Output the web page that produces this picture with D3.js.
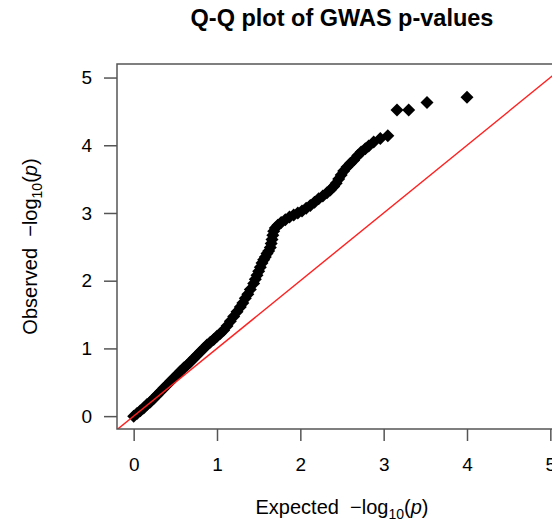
<!DOCTYPE html>
<html>
<head>
<meta charset="utf-8">
<style>
body {
   margin: 0;
   background: #fff;
   font-family: "Liberation Sans", Arial, sans-serif;
}
.axis text { font-size: 19px; fill: #000; font-family: "Liberation Sans", Arial, sans-serif; }
.axis line { stroke: #555; stroke-width: 1.5; }
.axis path { display: none; }
</style>
</head>
<body>
<div id="chart"></div>
<script src="https://d3js.org/d3.v7.min.js"></script>
<script>

// expected and observed -log10(p)
var expected = [0.00, 0.04, 0.08, 0.12, 0.16, 0.20, 0.24, 0.28, 0.32, 0.36, 0.40, 0.44, 0.48,
  0.52, 0.56, 0.60, 0.64, 0.68, 0.72, 0.76, 0.80, 0.84, 0.88, 0.92, 0.96, 1.00, 1.04, 1.08,
  1.12, 1.16, 1.20, 1.24, 1.28, 1.31, 1.34, 1.37, 1.40, 1.44, 1.46, 1.48, 1.50, 1.52, 1.54,
  1.56, 1.58, 1.60, 1.62, 1.64, 1.65, 1.66, 1.67, 1.68, 1.70, 1.73, 1.77, 1.82, 1.87, 1.92,
  1.97, 2.02, 2.07, 2.12, 2.17, 2.22, 2.27, 2.32, 2.36, 2.40, 2.43, 2.46, 2.49, 2.52, 2.56,
  2.60, 2.64, 2.69, 2.73, 2.78, 2.82, 2.88, 2.96, 3.05, 3.16, 3.30, 3.52, 4.00];
var observed = [0.00, 0.04, 0.08, 0.12, 0.17, 0.21, 0.26, 0.31, 0.36, 0.41, 0.46, 0.51, 0.56,
  0.61, 0.66, 0.71, 0.75, 0.80, 0.85, 0.90, 0.95, 1.00, 1.05, 1.09, 1.13, 1.18, 1.22, 1.27,
  1.33, 1.40, 1.47, 1.54, 1.61, 1.67, 1.74, 1.80, 1.87, 1.96, 2.02, 2.08, 2.14, 2.20, 2.26,
  2.31, 2.35, 2.40, 2.44, 2.49, 2.55, 2.61, 2.67, 2.73, 2.78, 2.82, 2.86, 2.90, 2.94, 2.97,
  3.00, 3.03, 3.07, 3.11, 3.16, 3.21, 3.25, 3.30, 3.34, 3.39, 3.44, 3.50, 3.56, 3.62, 3.68,
  3.73, 3.78, 3.85, 3.90, 3.95, 3.99, 4.05, 4.10, 4.14, 4.52, 4.52, 4.63, 4.71];
var xTicks = [0, 1, 2, 3, 4, 5];
var yTicks = [0, 1, 2, 3, 4, 5];

var width = 552, height = 524;
var plot = {left: 117, top: 64, right: 567, bottom: 429};

var x = d3.scaleLinear().domain([-0.2, 5.2]).range([plot.left, plot.right]);
var y = d3.scaleLinear().domain([-0.19, 5.2]).range([plot.bottom, plot.top]);

var svg = d3.select("#chart").append("svg")
    .attr("width", width)
    .attr("height", height);

svg.append("defs").append("clipPath").attr("id", "clip")
  .append("rect")
    .attr("x", plot.left).attr("y", plot.top)
    .attr("width", plot.right - plot.left).attr("height", plot.bottom - plot.top);

// points (filled diamonds)
var r = 6.5;
var diamond = "M0," + (-r) + "L" + r + ",0L0," + r + "L" + (-r) + ",0Z";
svg.append("g")
  .selectAll("path")
    .data(expected.map(function(d, i) { return [d, observed[i]]; }))
  .enter().append("path")
    .attr("d", diamond)
    .attr("transform", function(d) { return "translate(" + x(d[0]) + "," + y(d[1]) + ")"; })
    .attr("fill", "#000");

// y = x reference line
svg.append("line")
    .attr("clip-path", "url(#clip)")
    .attr("x1", x(-0.2)).attr("y1", y(-0.2))
    .attr("x2", x(5.2)).attr("y2", y(5.2))
    .attr("stroke", "#ff2020")
    .attr("stroke-width", 1.4);

// box
svg.append("rect")
    .attr("x", plot.left).attr("y", plot.top)
    .attr("width", plot.right - plot.left).attr("height", plot.bottom - plot.top)
    .attr("fill", "none")
    .attr("stroke", "#555")
    .attr("stroke-width", 1.5);

// axes
svg.append("g")
    .attr("class", "axis")
    .attr("transform", "translate(0," + plot.bottom + ")")
    .call(d3.axisBottom(x).tickValues(xTicks).tickSize(12).tickPadding(17).tickFormat(d3.format("d")));

svg.append("g")
    .attr("class", "axis")
    .attr("transform", "translate(" + plot.left + ",0)")
    .call(d3.axisLeft(y).tickValues(yTicks).tickSize(13).tickPadding(12).tickFormat(d3.format("d")));

// title
svg.append("text")
    .attr("x", (plot.left + plot.right) / 2)
    .attr("y", 26)
    .attr("text-anchor", "middle")
    .style("font-size", "23.5px")
    .style("font-weight", "bold")
    .text("Q-Q plot of GWAS p-values");

// axis titles with -log10(p)
function logLabel(t, word) {
  t.append("tspan").text(word + "  \u2212log");
  t.append("tspan").attr("dy", 5).style("font-size", "14px").text("10");
  t.append("tspan").attr("dy", -5).text("(");
  t.append("tspan").style("font-style", "italic").text("p");
  t.append("tspan").text(")");
}

var xt = svg.append("text")
    .attr("x", (plot.left + plot.right) / 2)
    .attr("y", 514)
    .attr("text-anchor", "middle")
    .style("font-size", "20px")
    .attr("xml:space", "preserve");
logLabel(xt, "Expected");

var yt = svg.append("text")
    .attr("transform", "translate(37," + ((plot.top + plot.bottom) / 2) + ") rotate(-90)")
    .attr("text-anchor", "middle")
    .style("font-size", "20px")
    .attr("xml:space", "preserve");
logLabel(yt, "Observed");

</script>
</body>
</html>
